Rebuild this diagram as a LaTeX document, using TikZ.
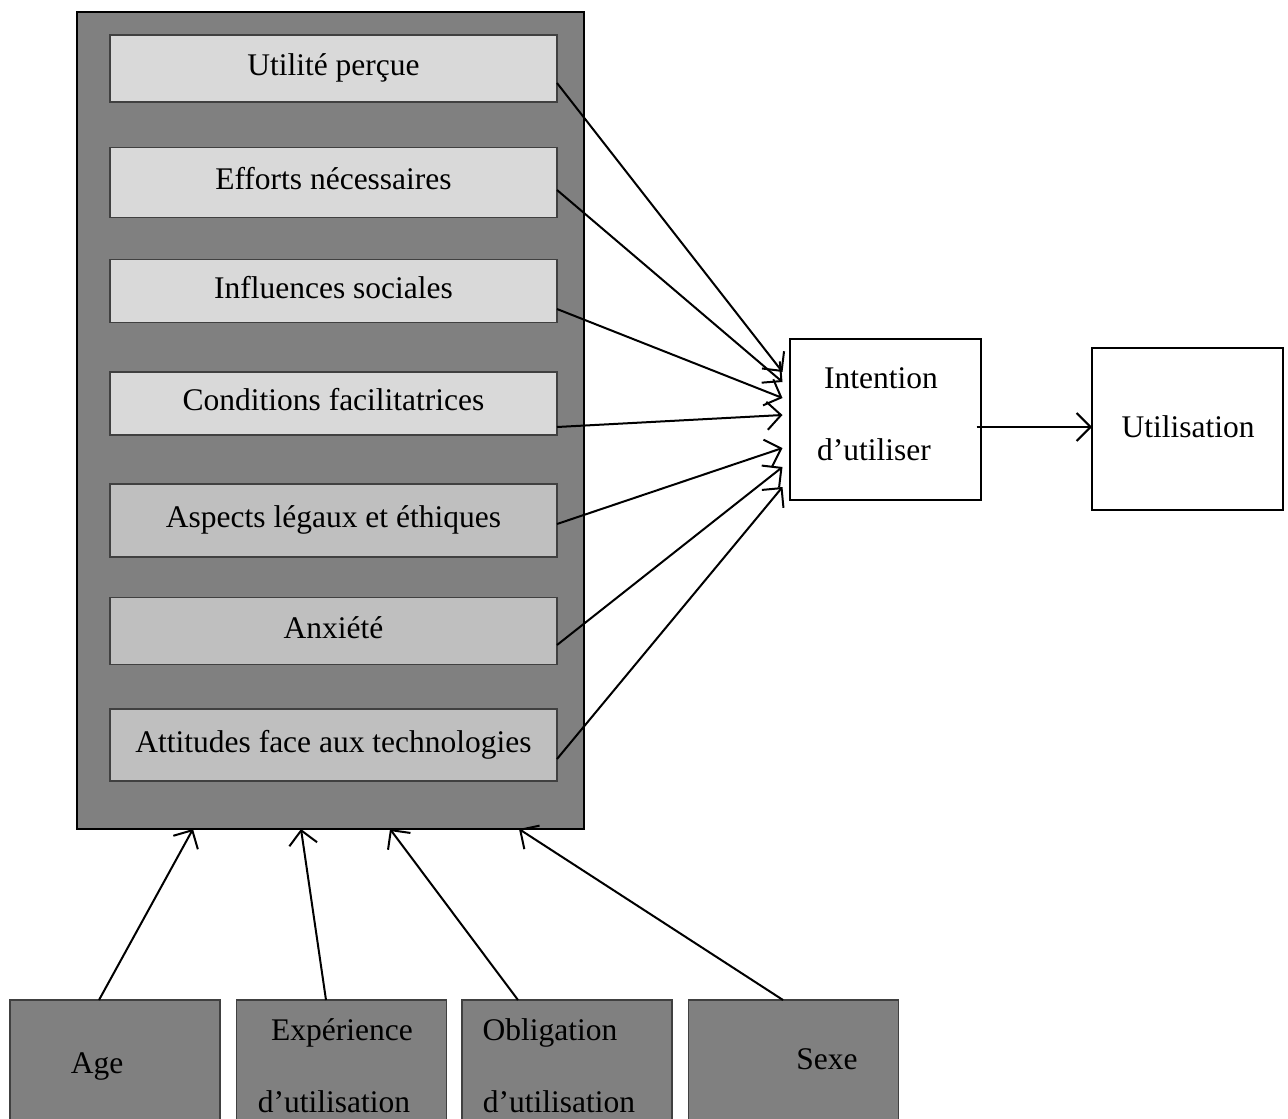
\documentclass[tikz,border=0pt]{standalone}
\usepackage{fontspec}
\setmainfont{Liberation Serif}
\usetikzlibrary{arrows.meta}
\definecolor{dkgray}{HTML}{808080}
\definecolor{ltgray}{HTML}{D9D9D9}
\definecolor{mdgray}{HTML}{BFBFBF}
\begin{document}
\begin{tikzpicture}[x=1pt,y=-1pt,
  every node/.style={font=\fontsize{31.5}{38}\selectfont, inner sep=0pt, outer sep=0pt},
  bigbox/.style={draw=black, line width=2.2pt, fill=dkgray},
  lbox/.style={draw=black!75, line width=1.4pt, fill=ltgray, minimum width=447pt, text height=20pt, text depth=6pt},
  mbox/.style={lbox, fill=mdgray},
  wbox/.style={draw=black, line width=2pt, fill=white, minimum width=191pt},
  bbox/.style={draw=black!75, line width=1.4pt, fill=dkgray, minimum width=210pt, minimum height=160pt},
  txt/.style={anchor=base},
  arr/.style={line width=2pt, -{Straight Barb[length=14pt,width=28pt,line width=2pt]}}]
\useasboundingbox (0,0) rectangle (1288,1119);
\fill[white] (0,0) rectangle (1288,1119);
% group box
\node[bigbox, minimum width=507pt, minimum height=817pt] (grp) at (330.5,420.5) {};
% factor boxes
\node[lbox, minimum height=67pt] (b1) at (333.5,68.5) {Utilité perçue};
\node[lbox, minimum height=70pt] (b2) at (333.5,182.5) {Efforts nécessaires};
\node[lbox, minimum height=63pt] (b3) at (333.5,291) {Influences sociales};
\node[lbox, minimum height=63pt] (b4) at (333.5,403.5) {Conditions facilitatrices};
\node[mbox, minimum height=73pt] (b5) at (333.5,520.5) {Aspects légaux et éthiques};
\node[mbox, minimum height=67pt] (b6) at (333.5,631) {Anxiété};
\node[mbox, minimum height=72pt] (b7) at (333.5,745) {Attitudes face aux technologies};
% intention and use
\node[wbox, minimum height=161pt] (intent) at (885,419) {};
\node[txt] (intent1) at (881,388) {Intention};
\node[txt] (intent2) at (874,460) {d’utiliser};
\node[wbox, minimum height=162pt] (util) at (1187.5,429) {};
\node[txt] (utiltxt) at (1188,437) {Utilisation};
% moderators (cut by the page bottom)
\node[bbox] (age) at (115,1080) {};
\node[bbox] (exp) at (341.5,1080) {};
\node[bbox] (obl) at (567,1080) {};
\node[bbox] (sexe) at (793.5,1080) {};
\node[txt] (agetxt) at (97,1073) {Age};
\node[txt] (exptxt1) at (342,1040) {Expérience};
\node[txt] (exptxt2) at (334,1112) {d’utilisation};
\node[txt] (obltxt1) at (550,1040) {Obligation};
\node[txt] (obltxt2) at (559,1112) {d’utilisation};
\node[txt] (sexetxt) at (827,1069) {Sexe};
% arrows to intention
\draw[arr] ([yshift=-14.5pt]b1.east) -- ([xshift=-7pt,yshift=47pt]intent.west);
\draw[arr] ([yshift=-7.5pt]b2.east) -- ([xshift=-7pt,yshift=37pt]intent.west);
\draw[arr] ([yshift=-18pt]b3.east) -- ([xshift=-7pt,yshift=21pt]intent.west);
\draw[arr] ([yshift=-23.5pt]b4.east) -- ([xshift=-7pt,yshift=4pt]intent.west);
\draw[arr] ([yshift=-3.5pt]b5.east) -- ([xshift=-7pt,yshift=-29pt]intent.west);
\draw[arr] ([yshift=-14pt]b6.east) -- ([xshift=-7pt,yshift=-48pt]intent.west);
\draw[arr] ([yshift=-14pt]b7.east) -- ([xshift=-7pt,yshift=-68pt]intent.west);
% intention -> use
\draw[arr] ([xshift=-4pt,yshift=-8pt]intent.east) -- ([yshift=2pt]util.west);
% moderator arrows
\draw[arr] ([xshift=-16pt]age.north) -- ([xshift=-137.5pt]grp.south);
\draw[arr] ([xshift=-15.5pt]exp.north) -- ([xshift=-29.5pt]grp.south);
\draw[arr] ([xshift=-49pt]obl.north) -- ([xshift=59.5pt]grp.south);
\draw[arr] ([xshift=-10.5pt]sexe.north) -- ([xshift=188.5pt]grp.south);
\end{tikzpicture}
\end{document}
